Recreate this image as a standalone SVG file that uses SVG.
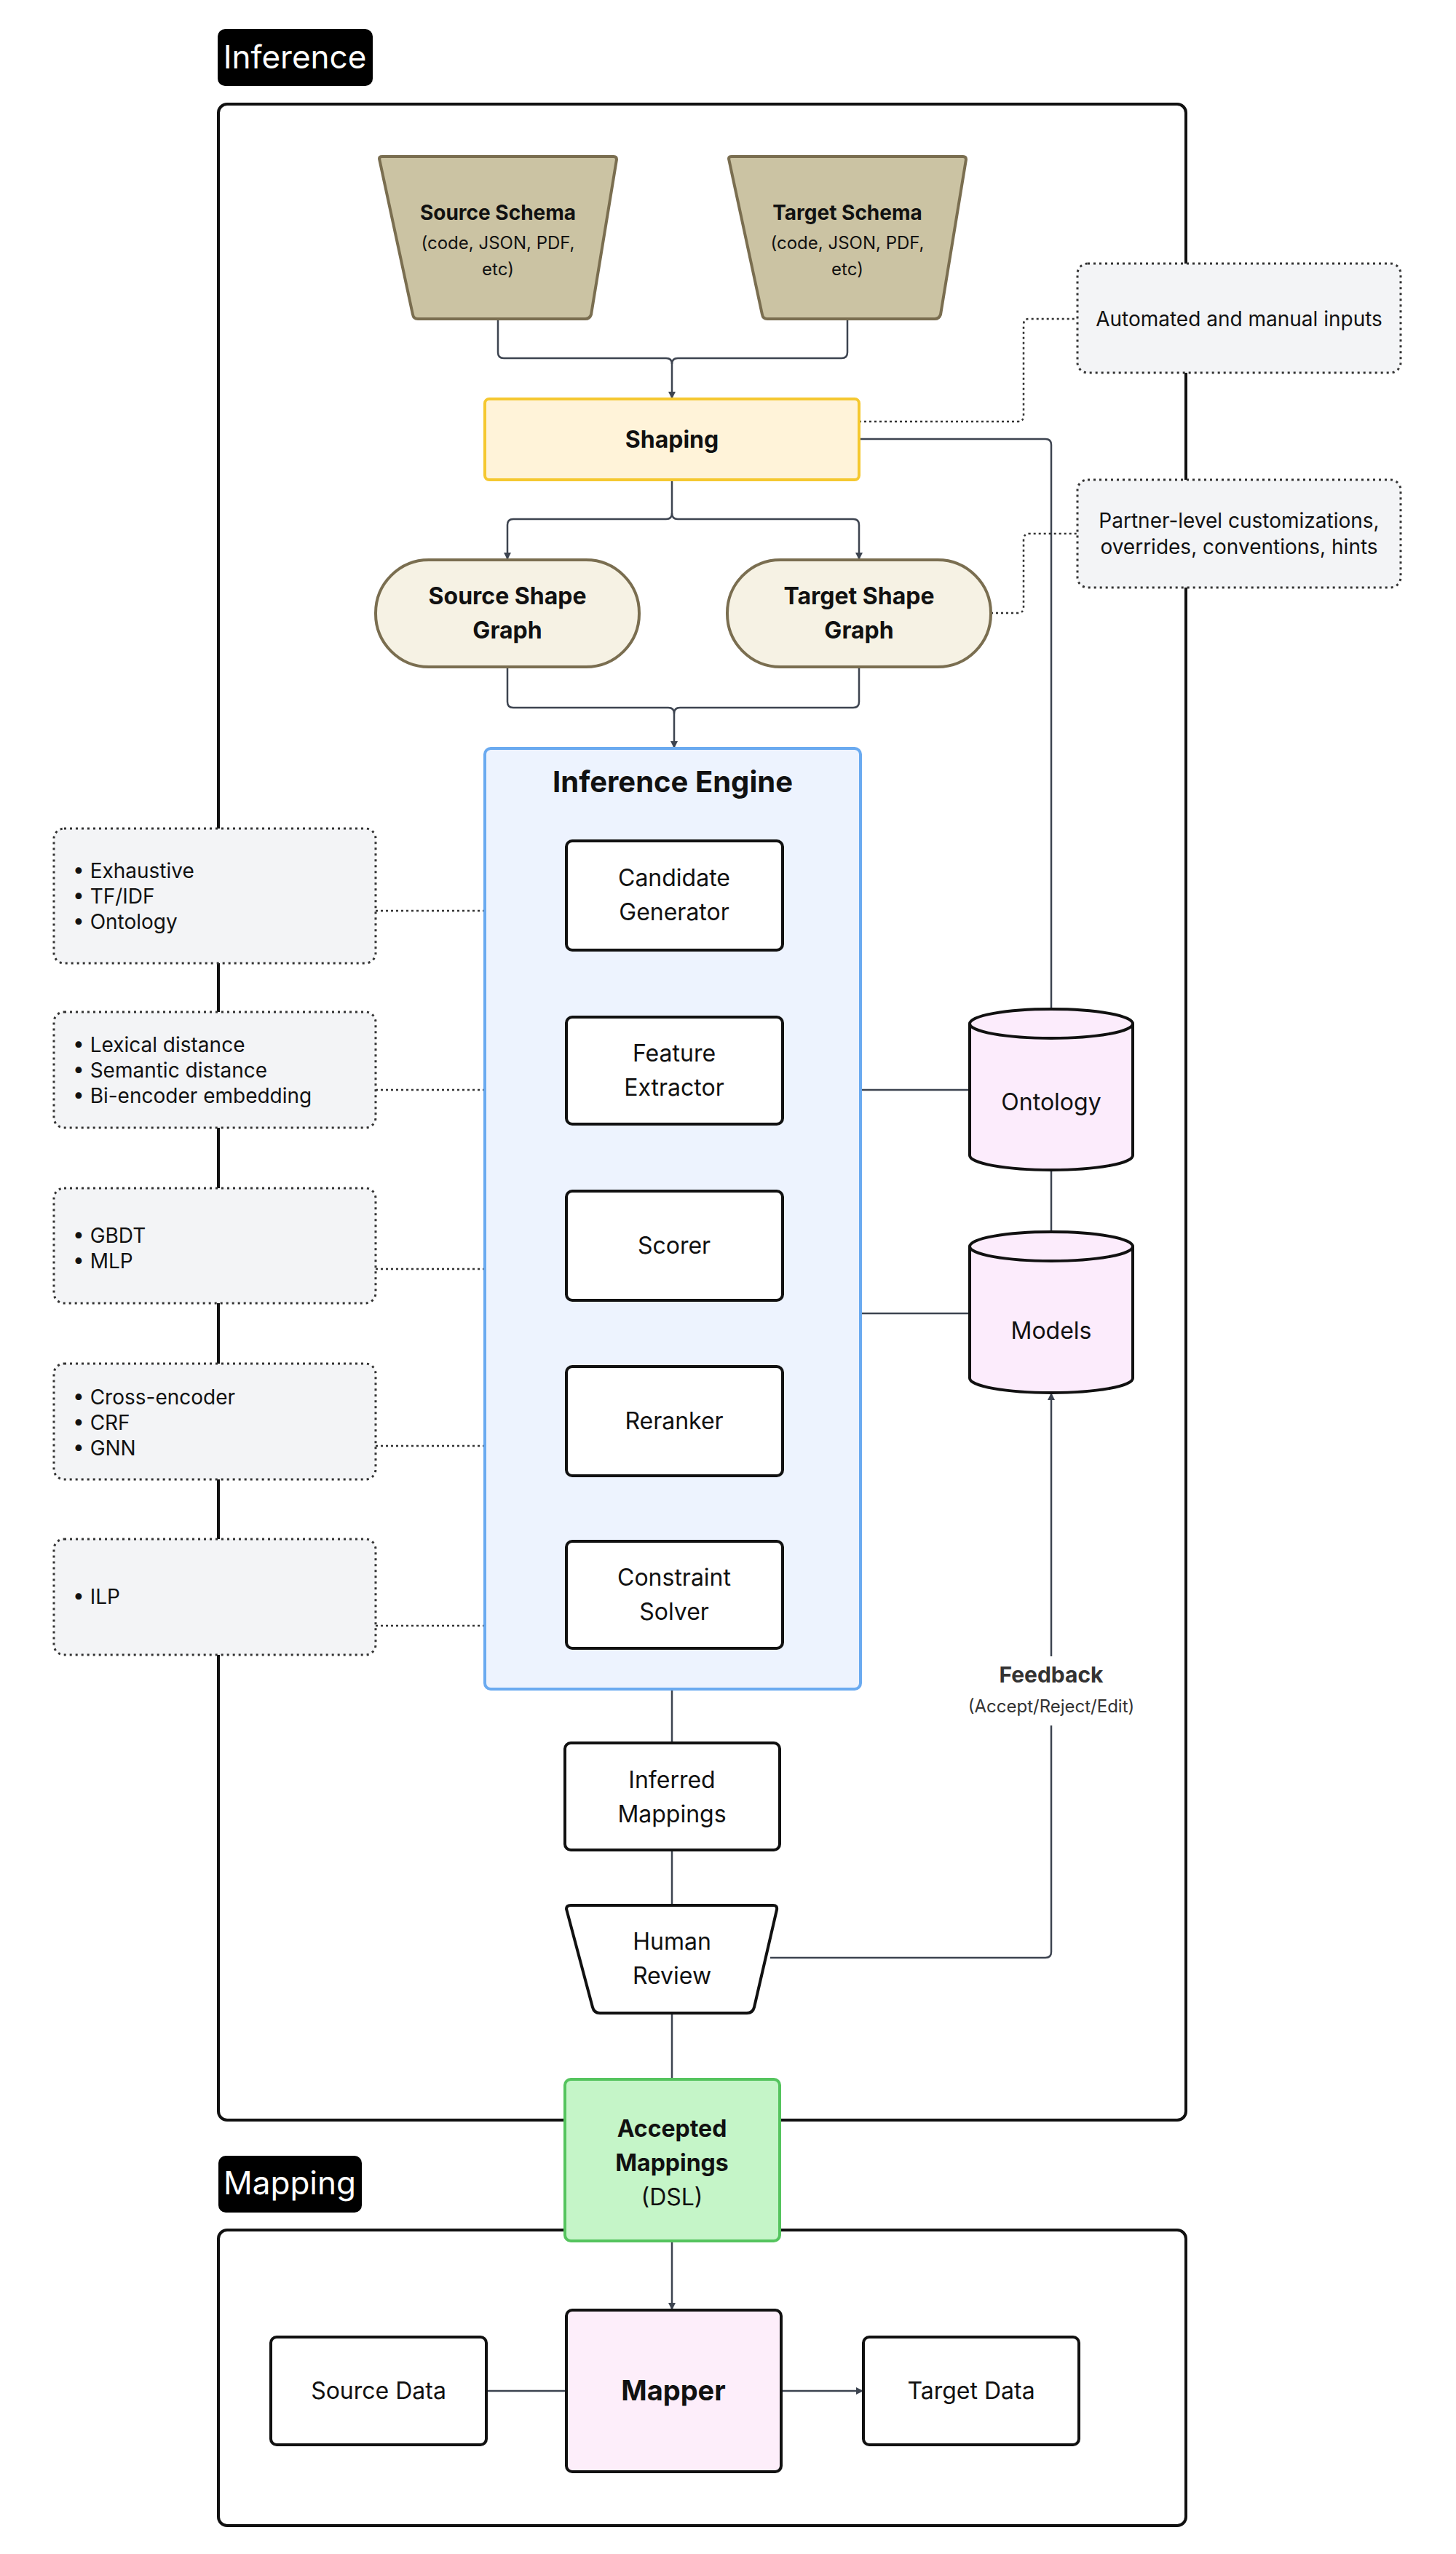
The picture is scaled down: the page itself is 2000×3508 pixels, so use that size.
<svg xmlns="http://www.w3.org/2000/svg" width="2000" height="3508" viewBox="0 0 2000 3508">
<defs>
<marker id="ar" viewBox="0 0 10 10" refX="10" refY="5" markerWidth="10" markerHeight="10" markerUnits="userSpaceOnUse" orient="auto"><path d="M0,0 L10,5 L0,10 z" fill="#3d4450"/></marker>
<style>
text{font-family:Inter,"Noto Sans",sans-serif;fill:#111;text-anchor:middle}
.n{font-size:32px}
.b{font-size:32px;font-weight:bold}
.s{font-size:28px}
.l{font-size:28px;text-anchor:start}
.frame{fill:none;stroke:#111;stroke-width:4}
.box{fill:#fff;stroke:#111;stroke-width:4}
.note{fill:#f3f4f6;stroke:#333;stroke-width:3;stroke-dasharray:3 5}
.c{fill:none;stroke:#3d4450;stroke-width:2.5}
.a{fill:none;stroke:#3d4450;stroke-width:2.5;marker-end:url(#ar)}
.d{fill:none;stroke:#333;stroke-width:2.5;stroke-dasharray:3 4}
.cyl{fill:#fcecfc;stroke:#111;stroke-width:4}
</style>
</defs>
<g id="frames">
<rect x="300" y="143" width="1329" height="2769" rx="12" class="frame"/>
<rect x="299" y="40" width="213" height="78" rx="10" fill="#000"/>
<text x="405" y="94" style="font-size:44px;fill:#fff">Inference</text>
<rect x="300" y="3063" width="1329" height="406" rx="12" class="frame"/>
<rect x="300" y="2961" width="197" height="78" rx="10" fill="#000"/>
<text x="398" y="3014" style="font-size:44px;fill:#fff">Mapping</text>
</g>
<g id="connectors">
<path d="M684,438 V484 Q684,492 692,492 H915 Q923,492 923,500 V548" class="a"/>
<path d="M1164,438 V484 Q1164,492 1156,492 H931 Q923,492 923,500" class="c"/>
<path d="M923,659 V705 Q923,713 915,713 H705 Q697,713 697,721 V769" class="a"/>
<path d="M923,705 Q923,713 931,713 H1172 Q1180,713 1180,721 V769" class="a"/>
<path d="M697,916 V964 Q697,972 705,972 H918 Q926,972 926,980 V1028" class="a"/>
<path d="M1180,916 V964 Q1180,972 1172,972 H934 Q926,972 926,980" class="c"/>
<path d="M1180,603 H1436 Q1444,603 1444,611 V1386" class="c"/>
<path d="M1182,1497 H1332 M1182,1804 H1332 M1444,1607 V1692" class="c"/>
<path d="M1180,579 H1398 Q1406,579 1406,571 V446 Q1406,438 1414,438 H1480" class="d"/>
<path d="M1361,842 H1398 Q1406,842 1406,834 V741 Q1406,733 1414,733 H1480" class="d"/>
<path d="M516,1251 H778 M516,1497 H778 M516,1743 H778 M516,1986 H778 M516,2233 H778" class="d"/>
<path d="M926,1305 V1397 M926,1544 V1636 M926,1786 V1877 M926,2027 V2117" class="a"/>
<path d="M923,2320 V2394 M923,2541 V2617 M923,2765 V2856 M923,3078 V3173" class="a"/>
<path d="M668,3284 H778 M1073,3284 H1186" class="a"/>
<path d="M1058,2689 H1436 Q1444,2689 1444,2681 V2370" class="c"/>
<path d="M1444,2275 V1913" class="a"/>
<text x="1444" y="2311" style="font-size:30px;font-weight:bold;fill:#333">Feedback</text>
<text x="1444" y="2352" style="font-size:24px;fill:#333">(Accept/Reject/Edit)</text>
</g>
<g id="source-schema">
<path d="M521,218 Q521,215 525,215 H843 Q847,215 847,219 L812,432 Q810,438 804,438 H574 Q568,438 567,432 Z" fill="#cbc3a3" stroke="#7a6e50" stroke-width="4"/>
<text x="684" y="302" style="font-size:28px;font-weight:bold">Source Schema</text>
<text x="684" y="342" style="font-size:24px">(code, JSON, PDF,</text>
<text x="684" y="378" style="font-size:24px">etc)</text>
</g>
<g id="target-schema">
<path d="M1001,218 Q1001,215 1005,215 H1323 Q1327,215 1327,219 L1292,432 Q1290,438 1284,438 H1054 Q1048,438 1047,432 Z" fill="#cbc3a3" stroke="#7a6e50" stroke-width="4"/>
<text x="1164" y="302" style="font-size:28px;font-weight:bold">Target Schema</text>
<text x="1164" y="342" style="font-size:24px">(code, JSON, PDF,</text>
<text x="1164" y="378" style="font-size:24px">etc)</text>
</g>
<g id="shaping">
<rect x="666" y="548" width="514" height="111" rx="6" fill="#fff3d9" stroke="#f5c830" stroke-width="4"/>
<text x="923" y="615" class="b">Shaping</text>
</g>
<g id="automated">
<rect x="1480" y="362" width="444" height="150" rx="14" class="note"/>
<text x="1702" y="448" class="s">Automated and manual inputs</text>
</g>
<g id="partner">
<rect x="1480" y="659" width="444" height="148" rx="14" class="note"/>
<text x="1702" y="725" class="s">Partner-level customizations,</text>
<text x="1702" y="761" class="s">overrides, conventions, hints</text>
</g>
<g id="source-shape-graph">
<rect x="516" y="769" width="362" height="147" rx="73" fill="#f6f2e4" stroke="#7a6e50" stroke-width="4"/>
<text x="697" y="830" class="b">Source Shape</text>
<text x="697" y="877" class="b">Graph</text>
</g>
<g id="target-shape-graph">
<rect x="999" y="769" width="362" height="147" rx="73" fill="#f6f2e4" stroke="#7a6e50" stroke-width="4"/>
<text x="1180" y="830" class="b">Target Shape</text>
<text x="1180" y="877" class="b">Graph</text>
</g>
<g id="inference-engine">
<rect x="666" y="1028" width="516" height="1292" rx="8" fill="#edf3fe" stroke="#6aaaf0" stroke-width="4"/>
<text x="924" y="1088" style="font-size:40px;font-weight:bold">Inference Engine</text>
</g>
<g id="candidate-generator"><rect x="778" y="1155" width="297" height="150" rx="8" class="box"/><text x="926" y="1217" class="n">Candidate</text><text x="926" y="1264" class="n">Generator</text></g>
<g id="feature-extractor"><rect x="778" y="1397" width="297" height="147" rx="8" class="box"/><text x="926" y="1458" class="n">Feature</text><text x="926" y="1505" class="n">Extractor</text></g>
<g id="scorer"><rect x="778" y="1636" width="297" height="150" rx="8" class="box"/><text x="926" y="1722" class="n">Scorer</text></g>
<g id="reranker"><rect x="778" y="1877" width="297" height="150" rx="8" class="box"/><text x="926" y="1963" class="n">Reranker</text></g>
<g id="constraint-solver"><rect x="778" y="2117" width="297" height="147" rx="8" class="box"/><text x="926" y="2178" class="n">Constraint</text><text x="926" y="2225" class="n">Solver</text></g>
<g id="note-candidate"><rect x="74" y="1138" width="442" height="185" rx="14" class="note"/><text x="100" y="1206" class="l">•  Exhaustive</text><text x="100" y="1241" class="l">•  TF/IDF</text><text x="100" y="1276" class="l">•  Ontology</text></g>
<g id="note-feature"><rect x="74" y="1390" width="442" height="159" rx="14" class="note"/><text x="100" y="1445" class="l">•  Lexical distance</text><text x="100" y="1480" class="l">•  Semantic distance</text><text x="100" y="1515" class="l">•  Bi-encoder embedding</text></g>
<g id="note-scorer"><rect x="74" y="1632" width="442" height="158" rx="14" class="note"/><text x="100" y="1707" class="l">•  GBDT</text><text x="100" y="1742" class="l">•  MLP</text></g>
<g id="note-reranker"><rect x="74" y="1873" width="442" height="159" rx="14" class="note"/><text x="100" y="1929" class="l">•  Cross-encoder</text><text x="100" y="1964" class="l">•  CRF</text><text x="100" y="1999" class="l">•  GNN</text></g>
<g id="note-solver"><rect x="74" y="2114" width="442" height="159" rx="14" class="note"/><text x="100" y="2203" class="l">•  ILP</text></g>
<g id="ontology">
<path d="M1332,1406 V1587 A112,20 0 0 0 1556,1587 V1406" class="cyl"/>
<ellipse cx="1444" cy="1406" rx="112" ry="20" class="cyl"/>
<text x="1444" y="1525" class="n">Ontology</text>
</g>
<g id="models">
<path d="M1332,1712 V1893 A112,20 0 0 0 1556,1893 V1712" class="cyl"/>
<ellipse cx="1444" cy="1712" rx="112" ry="20" class="cyl"/>
<text x="1444" y="1839" class="n">Models</text>
</g>
<g id="inferred-mappings"><rect x="776" y="2394" width="295" height="147" rx="8" class="box"/><text x="923" y="2456" class="n">Inferred</text><text x="923" y="2503" class="n">Mappings</text></g>
<g id="human-review">
<path d="M778,2622 Q778,2617 784,2617 H1062 Q1068,2617 1067,2623 L1036,2757 Q1034,2765 1026,2765 H824 Q816,2765 814,2757 Z" class="box"/>
<text x="923" y="2678" class="n">Human</text><text x="923" y="2725" class="n">Review</text>
</g>
<g id="accepted-mappings">
<rect x="776" y="2856" width="295" height="222" rx="8" fill="#c5f5c8" stroke="#55c45e" stroke-width="4"/>
<text x="923" y="2935" class="b">Accepted</text><text x="923" y="2982" class="b">Mappings</text><text x="923" y="3029" class="n">(DSL)</text>
</g>
<g id="source-data"><rect x="372" y="3210" width="296" height="148" rx="8" class="box"/><text x="520" y="3295" class="n">Source Data</text></g>
<g id="mapper"><rect x="778" y="3173" width="295" height="222" rx="8" fill="#fdeefa" stroke="#111" stroke-width="4"/><text x="925" y="3297" style="font-size:38px;font-weight:bold">Mapper</text></g>
<g id="target-data"><rect x="1186" y="3210" width="296" height="148" rx="8" class="box"/><text x="1334" y="3295" class="n">Target Data</text></g>
</svg>
